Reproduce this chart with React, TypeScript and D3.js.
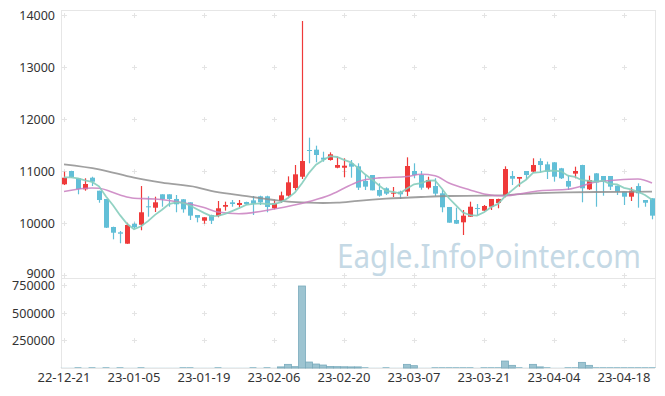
import React, { useEffect, useRef } from "react";
import * as d3 from "d3";

// trading days (KRX), label format YY-MM-DD
const dates = [
  "22-12-21", "22-12-22", "22-12-23", "22-12-26", "22-12-27", "22-12-28", "22-12-29",
  "23-01-02", "23-01-03", "23-01-04", "23-01-05", "23-01-06", "23-01-09", "23-01-10",
  "23-01-11", "23-01-12", "23-01-13", "23-01-16", "23-01-17", "23-01-18", "23-01-19",
  "23-01-20", "23-01-25", "23-01-26", "23-01-27", "23-01-30", "23-01-31",
  "23-02-01", "23-02-02", "23-02-03", "23-02-06", "23-02-07", "23-02-08", "23-02-09",
  "23-02-10", "23-02-13", "23-02-14", "23-02-15", "23-02-16", "23-02-17", "23-02-20",
  "23-02-21", "23-02-22", "23-02-23", "23-02-24", "23-02-27", "23-02-28",
  "23-03-02", "23-03-03", "23-03-06", "23-03-07", "23-03-08", "23-03-09", "23-03-10",
  "23-03-13", "23-03-14", "23-03-15", "23-03-16", "23-03-17", "23-03-20", "23-03-21",
  "23-03-22", "23-03-23", "23-03-24", "23-03-27", "23-03-28", "23-03-29", "23-03-30",
  "23-03-31", "23-04-03", "23-04-04", "23-04-05", "23-04-06", "23-04-07", "23-04-10",
  "23-04-11", "23-04-12", "23-04-13", "23-04-14", "23-04-17", "23-04-18", "23-04-19",
  "23-04-20", "23-04-21", "23-04-24",
];

const opens = [
  10744, 11000, 10860, 10648, 10871, 10621, 10462, 9923, 9821, 9602,
  9981, 9967, 10321, 10294, 10552, 10552, 10462, 10456, 10398, 10154,
  10044, 10154, 10135, 10313, 10398, 10346, 10404, 10436, 10513, 10513,
  10283, 10423, 10525, 10673, 10890, 11404, 11410, 11256, 11212, 11063,
  11063, 11148, 11090, 10808, 10923, 10635, 10667, 10564, 10603, 10603,
  11000, 10923, 10679, 10711, 10571, 10308, 10058, 10013, 10121, 10288,
  10237, 10313, 10385, 10519, 10904, 10852, 11000, 10987, 11192, 11128,
  11167, 11052, 10808, 10949, 11115, 10648, 10955, 10904, 10904, 10718,
  10603, 10506, 10711, 10442, 10475,
];
const highs = [
  10987, 11005, 10860, 10860, 10890, 10621, 10462, 9930, 9846, 10006,
  10010, 10711, 10513, 10506, 10552, 10552, 10538, 10460, 10398, 10154,
  10110, 10160, 10423, 10410, 10442, 10442, 10410, 10519, 10525, 10525,
  10449, 10603, 10897, 11115, 13885, 11641, 11487, 11371, 11359, 11275,
  11244, 11212, 11148, 10923, 10923, 10763, 10686, 10692, 10622, 11263,
  11148, 11000, 10890, 10860, 10635, 10308, 10295, 10250, 10410, 10365,
  10346, 10462, 10468, 11090, 11000, 10885, 11000, 11244, 11244, 11180,
  11170, 11060, 10910, 11083, 11120, 10910, 10960, 10904, 10904, 10718,
  10603, 10686, 10763, 10442, 10475,
];
const lows = [
  10730, 10870, 10552, 10621, 10711, 10390, 9904, 9686, 9610, 9600,
  9898, 9860, 10121, 10212, 10313, 10313, 10206, 10198, 10058, 10013,
  9987, 9981, 10110, 10237, 10313, 10301, 10346, 10154, 10346, 10206,
  10263, 10385, 10506, 10628, 10846, 11148, 11167, 11179, 11200, 11052,
  10879, 10871, 10635, 10635, 10628, 10506, 10538, 10500, 10462, 10519,
  10860, 10641, 10648, 10519, 10206, 10006, 9981, 9769, 10121, 10154,
  10230, 10250, 10283, 10494, 10730, 10699, 10840, 10975, 10968, 10846,
  10795, 10846, 10635, 10860, 10398, 10635, 10313, 10525, 10635, 10538,
  10346, 10423, 10295, 10313, 10071,
];
const closes = [
  10871, 10885, 10654, 10750, 10794, 10442, 9910, 9813, 9794, 9962,
  9917, 10206, 10302, 10398, 10456, 10462, 10360, 10263, 10141, 10102,
  10110, 10044, 10283, 10346, 10365, 10385, 10365, 10372, 10398, 10308,
  10385, 10532, 10782, 10936, 11192, 11385, 11308, 11218, 11321, 11115,
  11102, 11083, 10680, 10699, 10628, 10525, 10564, 10583, 10552, 11096,
  10923, 10679, 10827, 10564, 10302, 10006, 9987, 10141, 10313, 10269,
  10327, 10462, 10462, 11038, 10852, 10885, 10923, 11115, 11115, 10987,
  10890, 10860, 10699, 11000, 10667, 10827, 10782, 10795, 10699, 10603,
  10506, 10621, 10571, 10390, 10141,
];
// closes before the first visible day (for the 5-day average)
const prevCloses = [10885, 10750, 10950, 10940];

const volumes = [
  2000, 2000, 9000, 2000, 9000, 2000, 9000, 2000, 9000, 2000,
  2000, 9000, 2000, 2000, 2000, 2000, 2000, 9000, 9000, 2000,
  2000, 2000, 9000, 2000, 2000, 2000, 2000, 9000, 2000, 9000,
  2000, 10000, 33000, 12000, 741000, 54000, 36000, 27000, 14000, 12000,
  11000, 10000, 10000, 9000, 2000, 2000, 9000, 2000, 2000, 33000,
  21000, 2000, 2000, 9000, 9000, 9000, 9000, 9000, 9000, 2000,
  9000, 9000, 9000, 63000, 24000, 9000, 2000, 33000, 10000, 9000,
  2000, 2000, 9000, 9000, 51000, 24000, 9000, 9000, 9000, 9000,
  9000, 9000, 9000, 9000, 9000,
];

// longer moving averages (day index, value)
const ma20Idx = [0, 4, 5, 8, 10, 13, 15, 18, 20, 22, 25, 30, 35, 38, 40, 42, 45, 49, 51, 53, 55, 58, 60, 63, 65, 68, 72, 76, 79, 82, 84];
const ma20Vals = [10606, 10673, 10667, 10538, 10475, 10462, 10433, 10365, 10298, 10212, 10179, 10269, 10413, 10538, 10667, 10794, 10867, 10894, 10937, 10910, 10769, 10635, 10558, 10519, 10558, 10621, 10648, 10788, 10827, 10846, 10769];
const ma60Idx = [0, 5, 10, 14, 19, 21, 25, 30, 32, 35, 37, 39, 42, 46, 51, 55, 60, 63, 67, 72, 76, 84];
const ma60Vals = [11129, 11033, 10871, 10775, 10687, 10619, 10538, 10442, 10410, 10390, 10385, 10390, 10427, 10467, 10500, 10519, 10525, 10535, 10571, 10590, 10596, 10602];

const priceTicks = [9000, 10000, 11000, 12000, 13000, 14000];
const volumeTicks = [250000, 500000, 750000];
const tickLabels = ["22-12-21", "23-01-05", "23-01-19", "23-02-06", "23-02-20", "23-03-07", "23-03-21", "23-04-04", "23-04-18"];

const CandleChart = () => {
  const ref = useRef(null);

  useEffect(() => {
    const svg = d3.select(ref.current);
    svg.selectAll("*").remove();

    const left = 61, right = 655, top = 10, split = 278, bottom = 368;
    const font = "'Noto Sans', sans-serif";

    const x = d3.scalePoint().domain(dates).range([64, 652]);
    const y = d3.scaleLinear().domain([9000, 14000]).range([275, 15]);
    const yv = d3.scaleLinear().domain([0, 750000]).range([bottom, 285]);

    // frame
    const frame = svg.append("g").attr("stroke", "#e6e6e6").attr("stroke-width", 1);
    frame.append("line").attr("x1", left).attr("x2", right).attr("y1", top + 0.5).attr("y2", top + 0.5);
    frame.append("line").attr("x1", left).attr("x2", right).attr("y1", split + 0.5).attr("y2", split + 0.5);
    frame.append("line").attr("x1", left).attr("x2", right).attr("y1", bottom + 0.5).attr("y2", bottom + 0.5);
    frame.append("line").attr("x1", left + 0.5).attr("x2", left + 0.5).attr("y1", top).attr("y2", bottom);
    frame.append("line").attr("x1", right + 0.5).attr("x2", right + 0.5).attr("y1", top).attr("y2", bottom);

    // grid crosses
    const crossYs = [...priceTicks.map((d) => y(d)), ...volumeTicks.map((d) => yv(d))];
    const grid = svg.append("g").attr("stroke", "#e4e4e4").attr("stroke-width", 1);
    tickLabels.forEach((t) => {
      const cx = Math.round(x(t)) + 0.5;
      crossYs.forEach((cy) => {
        const yy = Math.round(cy) + 0.5;
        grid.append("line").attr("x1", cx - 2.5).attr("x2", cx + 2.5).attr("y1", yy).attr("y2", yy);
        grid.append("line").attr("x1", cx).attr("x2", cx).attr("y1", yy - 2.5).attr("y2", yy + 2.5);
      });
    });

    // watermark
    svg.append("text")
      .attr("x", 337).attr("y", 268)
      .attr("textLength", 304).attr("lengthAdjust", "spacingAndGlyphs")
      .style("font-family", font).style("font-size", "33px")
      .style("fill", "#c5d9e5")
      .text("Eagle.InfoPointer.com");

    // axis labels
    svg.append("g").selectAll("text").data(priceTicks).enter().append("text")
      .attr("x", 55).attr("y", (d) => y(d) + (d === 9000 ? 3 : 5))
      .attr("text-anchor", "end")
      .style("font-family", font).style("font-size", "12.5px").style("fill", "#333")
      .text((d) => d);
    svg.append("g").selectAll("text").data(volumeTicks).enter().append("text")
      .attr("x", 55).attr("y", (d) => yv(d) + 5)
      .attr("text-anchor", "end")
      .style("font-family", font).style("font-size", "12.5px").style("fill", "#333")
      .text((d) => d);
    svg.append("g").selectAll("text").data(tickLabels).enter().append("text")
      .attr("x", (d) => x(d)).attr("y", 382)
      .attr("text-anchor", "middle")
      .style("font-family", font).style("font-size", "13px").style("fill", "#333")
      .text((d) => d);

    // volume bars
    svg.append("g").selectAll("rect").data(dates).enter().append("rect")
      .attr("x", (d) => x(d) - 3.5)
      .attr("width", 7)
      .attr("y", (d, i) => yv(volumes[i]))
      .attr("height", (d, i) => bottom - yv(volumes[i]))
      .style("fill", "#9dc4d1")
      .style("stroke", (d, i) => (bottom - yv(volumes[i]) >= 1 ? "#79abbc" : "none"))
      .style("stroke-width", 0.8);

    // candles
    const up = "#ef3a3a", down = "#62bfd7";
    const candles = svg.append("g").selectAll("g").data(dates).enter().append("g");
    candles.append("line")
      .attr("x1", (d) => Math.round(x(d)) + 0.5).attr("x2", (d) => Math.round(x(d)) + 0.5)
      .attr("y1", (d, i) => y(highs[i])).attr("y2", (d, i) => y(lows[i]))
      .style("stroke", (d, i) => (closes[i] >= opens[i] ? up : down))
      .style("stroke-width", 1.2);
    candles.append("rect")
      .attr("x", (d) => Math.round(x(d)) - 2)
      .attr("width", 5)
      .attr("y", (d, i) => y(Math.max(opens[i], closes[i])))
      .attr("height", (d, i) => Math.max(1, Math.abs(y(opens[i]) - y(closes[i]))))
      .style("fill", (d, i) => (closes[i] >= opens[i] ? up : down));

    // moving averages
    const all = [...prevCloses, ...closes];
    const ma5 = closes.map((c, i) => d3.mean(all.slice(i, i + 5)));
    const line = d3.line().curve(d3.curveMonotoneX);

    svg.append("path")
      .attr("d", line(ma60Idx.map((k, j) => [x(dates[k]), y(ma60Vals[j])])))
      .style("fill", "none").style("stroke", "#8f8f8f").style("stroke-width", 1.8).style("opacity", 0.85);
    svg.append("path")
      .attr("d", line(ma20Idx.map((k, j) => [x(dates[k]), y(ma20Vals[j])])))
      .style("fill", "none").style("stroke", "#c97fc0").style("stroke-width", 1.6).style("opacity", 0.85);
    svg.append("path")
      .attr("d", d3.line()(ma5.map((v, i) => [x(dates[i]), y(v)])))
      .style("fill", "none").style("stroke", "#86cdbd").style("stroke-width", 1.8).style("opacity", 0.9);
  }, []);

  return <svg ref={ref} width={665} height={396} style={{ position: "absolute", left: 0, top: 0, background: "#fff" }}></svg>;
};

export default function App() {
  return <CandleChart />;
}
